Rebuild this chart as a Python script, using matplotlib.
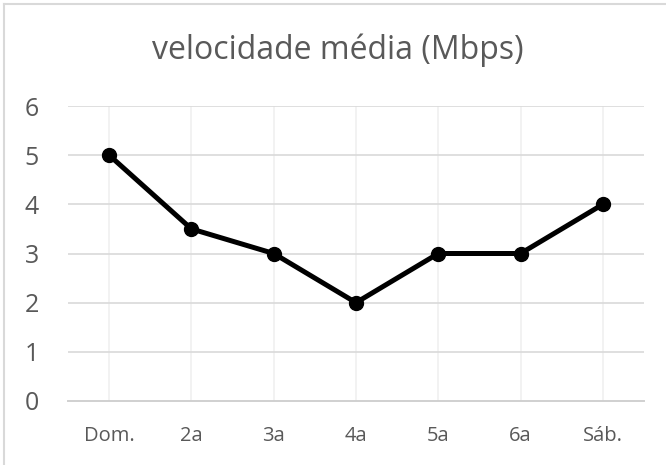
import matplotlib.pyplot as plt
from matplotlib.lines import Line2D

# data
dias = ["Dom.", "2a", "3a", "4a", "5a", "6a", "Sáb."]
velocidade = [5, 3.5, 3, 2, 3, 3, 4]
y_ticks = [0, 1, 2, 3, 4, 5, 6]

plt.rcParams['font.family'] = ['Open Sans', 'DejaVu Sans']

fig = plt.figure(figsize=(6.66, 4.65), dpi=100)
ax = fig.add_axes([68 / 666, 1 - 401 / 465, (644 - 68) / 666, (401 - 106) / 465])

x = list(range(len(dias)))
ax.plot(x, velocidade, color='black', linewidth=3.6, marker='o', markersize=10,
        solid_capstyle='round', zorder=3)

ax.set_xlim(-0.5, len(dias) - 0.5)
ax.set_ylim(0, 6)
ax.set_yticks(y_ticks)
ax.set_xticks(x)
ax.set_xticklabels(dias)

# gridlines
for t in y_ticks[1:]:
    ax.axhline(t, color='#d9d9d9', linewidth=1.2, zorder=1)
for xi in x:
    ax.axvline(xi, color='#f0f0f0', linewidth=1.2, zorder=0)

for s in ['top', 'right', 'left']:
    ax.spines[s].set_visible(False)
ax.spines['bottom'].set_color('#d0d0d0')
ax.spines['bottom'].set_linewidth(1.4)
ax.tick_params(axis='both', length=0, colors='#595959')
ax.tick_params(axis='y', pad=21, labelsize=18)
ax.tick_params(axis='x', pad=18, labelsize=14.5)

fig.text(338 / 666, 1 - 59 / 465, "velocidade média (Mbps)", ha='center', va='baseline',
         fontsize=23, color='#595959')

# chart border (left and top visible)
fig.add_artist(Line2D([4 / 666, 4 / 666], [0, 1 - 4 / 465], transform=fig.transFigure,
                      color='#d9d9d9', linewidth=1.5))
fig.add_artist(Line2D([4 / 666, 1], [1 - 4 / 465, 1 - 4 / 465], transform=fig.transFigure,
                      color='#d9d9d9', linewidth=1.5))

fig.savefig("out.png", dpi=100)
